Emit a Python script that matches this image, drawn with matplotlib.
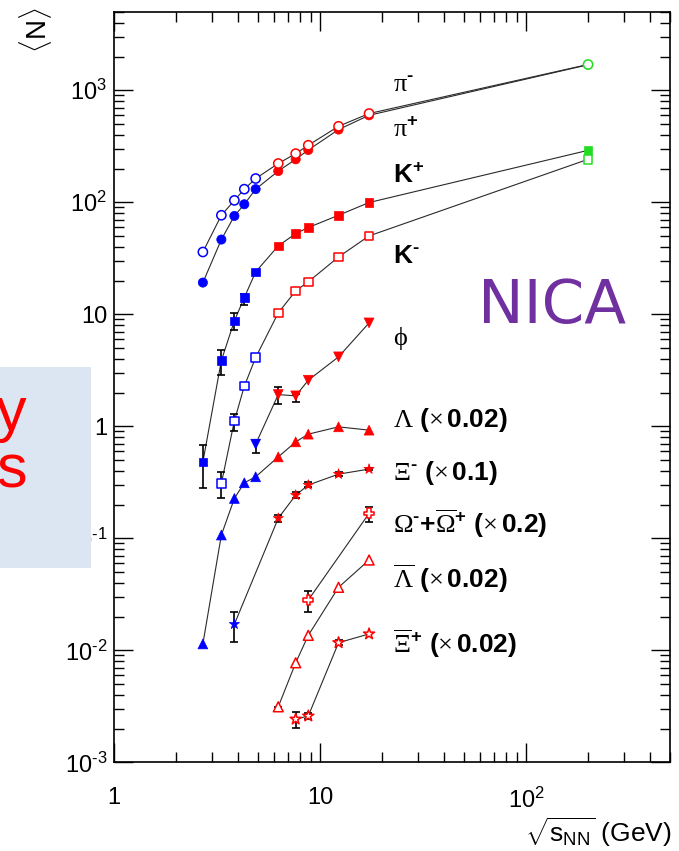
import numpy as np
import matplotlib
matplotlib.use('Agg')
import matplotlib.pyplot as plt
from matplotlib.patches import Rectangle
from matplotlib.ticker import FixedLocator, FixedFormatter, LogLocator, NullFormatter

plt.rcParams['font.family'] = ['Liberation Sans', 'DejaVu Sans']
plt.rcParams['mathtext.fontset'] = 'custom'
plt.rcParams['mathtext.rm'] = 'Liberation Sans'
plt.rcParams['mathtext.it'] = 'Liberation Sans:italic'
plt.rcParams['mathtext.bf'] = 'Liberation Sans:bold'
plt.rcParams['mathtext.sf'] = 'Liberation Sans'
plt.rcParams['mathtext.cal'] = 'Liberation Serif'

# ---- particle yields vs sqrt(s_NN) ----
pim_x = [2.70, 3.32, 3.84, 4.29, 4.87, 6.27, 7.62, 8.77, 12.3, 17.3, 200]
pim_y = [36, 76.6, 104, 131, 163, 222, 272, 323, 477, 620, 1700]

pip_x = [2.70, 3.32, 3.84, 4.29, 4.87, 6.27, 7.62, 8.77, 12.3, 17.3, 200]
pip_y = [19.2, 46.5, 75.5, 96, 131, 190, 242, 293, 446, 598, 1690]

kp_x = [2.70, 3.32, 3.84, 4.29, 4.87, 6.27, 7.62, 8.77, 12.3, 17.3, 200]
kp_y = [0.48, 3.87, 8.74, 14.1, 23.9, 40.8, 52.6, 59.5, 76.6, 99.5, 291]
kp_elo = [0.20, 1.01, 1.43, 1.9, 0, 0, 0, 0, 0, 0, 0]
kp_ehi = [0.20, 0.91, 1.56, 1.2, 0, 0, 0, 0, 0, 0, 0]

km_x = [3.32, 3.84, 4.29, 4.87, 6.27, 7.62, 8.77, 12.3, 17.3, 200]
km_y = [0.309, 1.12, 2.28, 4.11, 10.3, 16.2, 19.5, 32.5, 50.1, 242]
km_elo = [0.079, 0.21, 0.10, 0.15, 0, 0, 0, 0, 0, 0]
km_ehi = [0.078, 0.18, 0.12, 0.15, 0, 0, 0, 0, 0, 0]

phi_x = [4.87, 6.27, 7.62, 8.77, 12.3, 17.3]
phi_y = [0.693, 1.92, 1.87, 2.58, 4.17, 8.38]
phi_elo = [0.12, 0.34, 0.22, 0, 0, 0]
phi_ehi = [0.06, 0.33, 0.08, 0, 0, 0]

lam_x = [2.70, 3.32, 3.84, 4.29, 4.87, 6.27, 7.62, 8.77, 12.3, 17.3]
lam_y = [0.0114, 0.107, 0.227, 0.313, 0.354, 0.533, 0.726, 0.851, 0.989, 0.924]

xim_x = [3.84, 6.27, 7.62, 8.77, 12.3, 17.3]
xim_y = [0.0171, 0.151, 0.243, 0.299, 0.374, 0.415]
xim_elo = [0.0052, 0.011, 0.015, 0.014, 0.014, 0.010]
xim_ehi = [0.0047, 0.012, 0.015, 0.016, 0.016, 0.010]

om_x = [8.77, 17.3]
om_y = [0.0281, 0.167]
om_elo = [0.0060, 0.027]
om_ehi = [0.0059, 0.024]

alam_x = [6.27, 7.62, 8.77, 12.3, 17.3]
alam_y = [0.00313, 0.00774, 0.0136, 0.0365, 0.064]
alam_elo = [0.0002, 0, 0, 0, 0]
alam_ehi = [0, 0, 0, 0, 0]

axi_x = [7.62, 8.77, 12.3, 17.3]
axi_y = [0.00243, 0.00259, 0.0117, 0.0140]
axi_elo = [0.00042, 0.00015, 0.0006, 0]
axi_ehi = [0.00036, 0.00015, 0.0006, 0]

HY = '\u2010'  # short hyphen for superscript signs
y_ticks = [1e-3, 1e-2, 1e-1, 1, 10, 1e2, 1e3]
y_ticklabels = [rf'$10^{{{HY}3}}$', rf'$10^{{{HY}2}}$', rf'$10^{{{HY}1}}$',
                '1', '10', r'$10^{2}$', r'$10^{3}$']
x_ticks = [1, 10, 100]
x_ticklabels = ['1', '10', r'$10^{2}$']

BLUE, RED, GREEN = '#0000ff', '#ff0000', '#22dd22'


def point_colors(xs):
    return [BLUE if x < 5 else (RED if x < 100 else GREEN) for x in xs]


def draw_series(ax, xs, ys, marker, filled, size, elo=None, ehi=None):
    ax.plot(xs, ys, '-', color='#2a2a2a', lw=0.8, zorder=2)
    if elo is not None:
        xs_a, ys_a = np.array(xs), np.array(ys)
        lo, hi = np.array(elo), np.array(ehi)
        m = (lo > 0) | (hi > 0)
        ax.errorbar(xs_a[m], ys_a[m], yerr=[lo[m], hi[m]], fmt='none',
                    ecolor='black', elinewidth=1.2, capsize=3, capthick=1.2, zorder=3)
    cols = point_colors(xs)
    if filled:
        ax.scatter(xs, ys, s=size, marker=marker, c=cols, edgecolors=cols,
                   linewidths=0.5, zorder=4)
    else:
        ax.scatter(xs, ys, s=size, marker=marker, facecolors='white',
                   edgecolors=cols, linewidths=1.1, zorder=4)


fig = plt.figure(figsize=(6.79, 8.51), dpi=100)
ax = fig.add_axes([0.1679, 0.1042, 0.8189, 0.8817])
ax.set_xscale('log')
ax.set_yscale('log')
ax.set_xlim(1, 500)
ax.set_ylim(1e-3, 5000)

draw_series(ax, pip_x, pip_y, 'o', True, 44)
draw_series(ax, pim_x, pim_y, 'o', False, 44)
draw_series(ax, kp_x, kp_y, 's', True, 38, kp_elo, kp_ehi)
draw_series(ax, km_x, km_y, 's', False, 38, km_elo, km_ehi)
draw_series(ax, phi_x, phi_y, 'v', True, 50, phi_elo, phi_ehi)
draw_series(ax, lam_x, lam_y, '^', True, 50)
draw_series(ax, xim_x, xim_y, '*', True, 60, xim_elo, xim_ehi)
draw_series(ax, om_x, om_y, 'P', False, 50, om_elo, om_ehi)
draw_series(ax, alam_x, alam_y, '^', False, 50, alam_elo, alam_ehi)
draw_series(ax, axi_x, axi_y, '*', False, 70, axi_elo, axi_ehi)

# ticks, ROOT style (inside, all four sides)
ax.xaxis.set_major_locator(FixedLocator(x_ticks))
ax.xaxis.set_major_formatter(FixedFormatter(x_ticklabels))
ax.xaxis.set_minor_locator(LogLocator(base=10, subs=np.arange(2, 10), numticks=20))
ax.xaxis.set_minor_formatter(NullFormatter())
ax.yaxis.set_major_locator(FixedLocator(y_ticks))
ax.yaxis.set_major_formatter(FixedFormatter(y_ticklabels))
ax.yaxis.set_minor_locator(LogLocator(base=10, subs=np.arange(2, 10), numticks=20))
ax.yaxis.set_minor_formatter(NullFormatter())
ax.tick_params(which='both', direction='in', top=True, right=True, width=1.0,
               labelsize=17, colors='black')
ax.tick_params(which='major', length=13.5)
ax.tick_params(which='minor', length=7)
ax.tick_params(axis='x', which='major', pad=18)
ax.tick_params(axis='y', which='major', pad=5)
for sp in ax.spines.values():
    sp.set_linewidth(1.2)

# species labels
sup_m = rf'^{{\mathbf{{{HY}}}}}'
sup_p = r'^{\mathbf{+}}'
lab_x = 22.5
labels = [
    (960, rf'$\mathcal{{\pi}}{sup_m}$'),
    (380, rf'$\mathcal{{\pi}}{sup_p}$'),
    (148, r'$\mathbf{K}' + sup_p + '$'),
    (28.6, r'$\mathbf{K}' + sup_m + '$'),
    (5.3, r'$\mathcal{\phi}$'),
    (0.983, r'$\mathcal{\Lambda}\ \mathbf{(}\mathcal{\times}\,\mathbf{0.02)}$'),
    (0.331, r'$\mathcal{\Xi}' + sup_m + r'\ \mathbf{(}\mathcal{\times}\,\mathbf{0.1)}$'),
    (0.111, r'$\mathcal{\Omega}' + sup_m + r'\mathbf{+}\overline{\mathcal{\Omega}}' + sup_p
     + r'\ \mathbf{(}\mathcal{\times}\,\mathbf{0.2)}$'),
    (0.036, r'$\overline{\mathcal{\Lambda}}\ \mathbf{(}\mathcal{\times}\,\mathbf{0.02)}$'),
    (0.00945, r'$\overline{\mathcal{\Xi}}' + sup_p + r'\ \mathbf{(}\mathcal{\times}\,\mathbf{0.02)}$'),
]
for y, txt in labels:
    ax.text(lab_x, y, txt, fontsize=19, ha='left', va='baseline', color='black', zorder=5)

ax.text(0.788, 0.608, 'NICA', transform=ax.transAxes, fontsize=44, color='#7030a0',
        family='DejaVu Sans', ha='center', va='center')

fig.text(36 / 679, 1 - 30 / 851, r'$\langle\mathrm{N}\rangle$', rotation=90,
         fontsize=20, ha='center', va='center')
fig.text(672 / 679, 1 - 842 / 851, r'$\sqrt{\mathrm{s}_{\mathrm{NN}}}$ (GeV)',
         fontsize=19, ha='right', va='baseline')

# slide box overlapping the left edge
fig.patches.append(Rectangle((0, 1 - 568 / 851), 91 / 679, 201 / 851,
                             transform=fig.transFigure, facecolor='#dce6f2',
                             edgecolor='none', zorder=10))
fig.text(26 / 679, 1 - 430 / 851, 'y', color='#ff0000', fontsize=44,
         ha='right', va='baseline', zorder=11)
fig.text(27 / 679, 1 - 487 / 851, 's', color='#ff0000', fontsize=44,
         ha='right', va='baseline', zorder=11)

fig.savefig('out.png', dpi=100)
